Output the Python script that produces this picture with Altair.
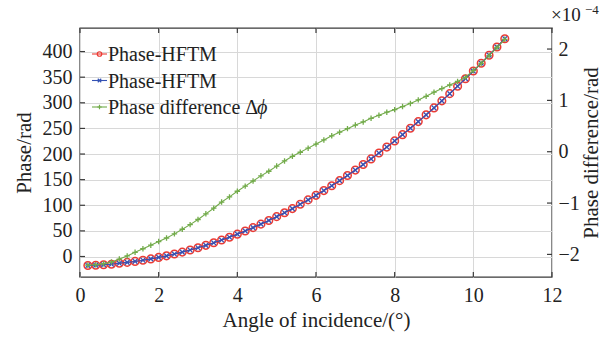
import altair as alt
import pandas as pd

angles = [0.2, 0.4, 0.6, 0.8, 1.0, 1.2, 1.4, 1.6, 1.8, 2.0,
          2.2, 2.4, 2.6, 2.8, 3.0, 3.2, 3.4, 3.6, 3.8, 4.0,
          4.2, 4.4, 4.6, 4.8, 5.0, 5.2, 5.4, 5.6, 5.8, 6.0,
          6.2, 6.4, 6.6, 6.8, 7.0, 7.2, 7.4, 7.6, 7.8, 8.0,
          8.2, 8.4, 8.6, 8.8, 9.0, 9.2, 9.4, 9.6, 9.8, 10.0,
          10.2, 10.4, 10.6, 10.8]

phase_hftm_a = [-17.5, -17.0, -16.2, -15.0, -13.2, -11.5, -9.6, -7.3, -4.7, -1.8,
                1.3, 4.8, 8.6, 12.7, 17.1, 21.8, 26.8, 32.1, 37.7, 43.6,
                49.9, 56.4, 63.2, 70.3, 77.8, 85.5, 93.5, 101.9, 110.5, 119.4,
                128.7, 138.2, 148.1, 158.2, 168.7, 179.5, 190.5, 201.9, 213.6, 225.6,
                237.8, 250.4, 263.3, 276.5, 290.0, 303.8, 317.9, 332.3, 347.0, 362.0,
                377.3, 392.9, 408.8, 425.1]

phase_hftm_b = [-17.5, -17.0, -16.2, -15.0, -13.2, -11.5, -9.6, -7.3, -4.7, -1.8,
                1.3, 4.8, 8.6, 12.7, 17.1, 21.8, 26.8, 32.1, 37.7, 43.6,
                49.9, 56.4, 63.2, 70.3, 77.8, 85.5, 93.5, 101.9, 110.5, 119.4,
                128.7, 138.2, 148.1, 158.2, 168.7, 179.5, 190.5, 201.9, 213.6, 225.6,
                237.8, 250.4, 263.3, 276.5, 290.0, 303.8, 317.9, 332.3, 347.0, 362.0,
                377.3, 392.9, 408.8, 425.1]

# phase difference in units of 1e-4 rad
phase_diff = [-2.21, -2.20, -2.18, -2.15, -2.09, -2.03, -1.96, -1.89, -1.82, -1.75,
              -1.68, -1.60, -1.51, -1.42, -1.32, -1.21, -1.10, -0.98, -0.88, -0.77,
              -0.67, -0.57, -0.47, -0.38, -0.28, -0.18, -0.09, -0.01, 0.07, 0.15,
              0.23, 0.31, 0.38, 0.45, 0.52, 0.58, 0.65, 0.71, 0.77, 0.82,
              0.88, 0.94, 1.01, 1.08, 1.16, 1.23, 1.30, 1.37, 1.45, 1.58,
              1.72, 1.87, 2.03, 2.19]

x_ticks = [0, 2, 4, 6, 8, 10, 12]
left_ticks = [0, 50, 100, 150, 200, 250, 300, 350, 400]
right_ticks = [-2, -1, 0, 1, 2]

legend_labels = ["Phase-HFTM", "Phase-HFTM", "Phase difference Δ"]

RED = "#ec3b34"
BLUE = "#3452b4"
GREEN = "#72ab4a"
FRAME = "#3a3a3a"
FONT = "Liberation Serif"
W, H = 472, 249

df = pd.DataFrame({"angle": angles, "pa": phase_hftm_a, "pb": phase_hftm_b, "pd": phase_diff})

xscale = alt.Scale(domain=[0, 12], nice=False, zero=False)
yl_scale = alt.Scale(domain=[-40, 446], nice=False, zero=False)
yr_scale = alt.Scale(domain=[-2.44, 2.41], nice=False, zero=False)

x_axis = alt.Axis(values=x_ticks, title="Angle of incidence/(°)", grid=True, ticks=False,
                  domain=False, labelFlush=False, labelPadding=8, titlePadding=4)
yl_axis = alt.Axis(values=left_ticks, title="Phase/rad", grid=True, ticks=False,
                   domain=False, labelPadding=8, titlePadding=8)
yr_axis = alt.Axis(values=right_ticks, title="Phase difference/rad", orient="right", grid=False,
                   ticks=False, domain=False, labelPadding=6, titlePadding=22, titleAngle=270)

X = alt.X("angle:Q", scale=xscale, axis=x_axis)

def YL(field):
    return alt.Y(f"{field}:Q", scale=yl_scale, axis=yl_axis)

def YR(field):
    return alt.Y(f"{field}:Q", scale=yr_scale, axis=yr_axis)

X_PATH = "M-1,-1L1,1M-1,1L1,-1"
PLUS_PATH = "M-1,0L1,0M0,-1L0,1"

base = alt.Chart(df)
red_line = base.mark_line(color=RED, strokeWidth=1.3).encode(x=X, y=YL("pa"))
red_pts = base.mark_point(shape="circle", filled=False, color=RED, size=58, strokeWidth=1.5, opacity=1).encode(x=X, y=YL("pa"))
blue_line = base.mark_line(color=BLUE, strokeWidth=1.1).encode(x=X, y=YL("pb"))
blue_pts = base.mark_point(shape=X_PATH, filled=False, color=BLUE, size=22, strokeWidth=1.3, opacity=1).encode(x=X, y=YL("pb"))

# inward tick marks
xt_df = pd.DataFrame({"angle": x_ticks})
xt_bottom = alt.Chart(xt_df).mark_rule(color=FRAME, strokeWidth=1.2).encode(x=X, y=alt.value(H), y2=alt.value(H - 5))
xt_top = alt.Chart(xt_df).mark_rule(color=FRAME, strokeWidth=1.2).encode(x=X, y=alt.value(0), y2=alt.value(5))
yl_df = pd.DataFrame({"pa": left_ticks})
yl_ticks = alt.Chart(yl_df).mark_rule(color=FRAME, strokeWidth=1.2).encode(y=YL("pa"), x=alt.value(0), x2=alt.value(5))

# exponent label
exp_a = alt.Chart(pd.DataFrame({"t": ["×10"]})).mark_text(
    font=FONT, fontSize=19, align="left", baseline="alphabetic", color="#222"
).encode(text="t:N", x=alt.value(471), y=alt.value(-7))
exp_b = alt.Chart(pd.DataFrame({"t": ["−4"]})).mark_text(
    font=FONT, fontSize=13, align="left", baseline="alphabetic", color="#222"
).encode(text="t:N", x=alt.value(505), y=alt.value(-14))

# legend
leg_layers = []
leg_specs = [(RED, "circle", 20), (BLUE, X_PATH, 12), (GREEN, PLUS_PATH, 20)]
for i, (col, shp, sz) in enumerate(leg_specs):
    yy = 26 + i * 26.5
    ldf = pd.DataFrame({"label": [legend_labels[i]]})
    leg_layers.append(alt.Chart(ldf).mark_rule(color=col, strokeWidth=1.1).encode(
        x=alt.value(12), x2=alt.value(27), y=alt.value(yy)))
    leg_layers.append(alt.Chart(ldf).mark_point(shape=shp, filled=False, color=col, size=sz, strokeWidth=1.2, opacity=1).encode(
        x=alt.value(19.5), y=alt.value(yy)))
    leg_layers.append(alt.Chart(ldf).mark_text(font=FONT, fontSize=20, align="left", baseline="middle", color="#222").encode(
        text="label:N", x=alt.value(28), y=alt.value(yy + 1)))

phi_mark = alt.Chart(pd.DataFrame({"t": ["ϕ"]})).mark_text(
    font=FONT, fontSize=20, fontStyle="italic", align="left", baseline="middle", color="#222"
).encode(text="t:N", x=alt.value(177), y=alt.value(26 + 2 * 26.5 + 1))

left_group = alt.layer(red_line, red_pts, blue_line, blue_pts, xt_bottom, xt_top, yl_ticks,
                       exp_a, exp_b, phi_mark, *leg_layers)

green_line = base.mark_line(color=GREEN, strokeWidth=1.1).encode(x=X, y=YR("pd"))
green_pts = base.mark_point(shape=PLUS_PATH, filled=False, color=GREEN, size=30, strokeWidth=1.3, opacity=1).encode(x=X, y=YR("pd"))
yr_df = pd.DataFrame({"pd": right_ticks})
yr_ticks = alt.Chart(yr_df).mark_rule(color=FRAME, strokeWidth=1.2).encode(y=YR("pd"), x=alt.value(W), x2=alt.value(W - 5))

right_group = alt.layer(green_line, green_pts, yr_ticks)

chart = alt.layer(left_group, right_group).resolve_scale(y="independent").properties(
    width=W, height=H,
    autosize=alt.AutoSizeParams(type="none"),
    padding={"left": 80, "top": 28, "right": 58, "bottom": 61},
    background="white",
).configure_view(
    stroke=FRAME, strokeWidth=1.4
).configure_axis(
    labelFont=FONT, titleFont=FONT, labelFontSize=20, titleFontSize=21,
    labelColor="#222", titleColor="#222", titleFontWeight="normal",
    gridColor="#d8d8d8", gridWidth=1
)

chart.save("out.html", embed_options={"renderer": "svg", "actions": False})
